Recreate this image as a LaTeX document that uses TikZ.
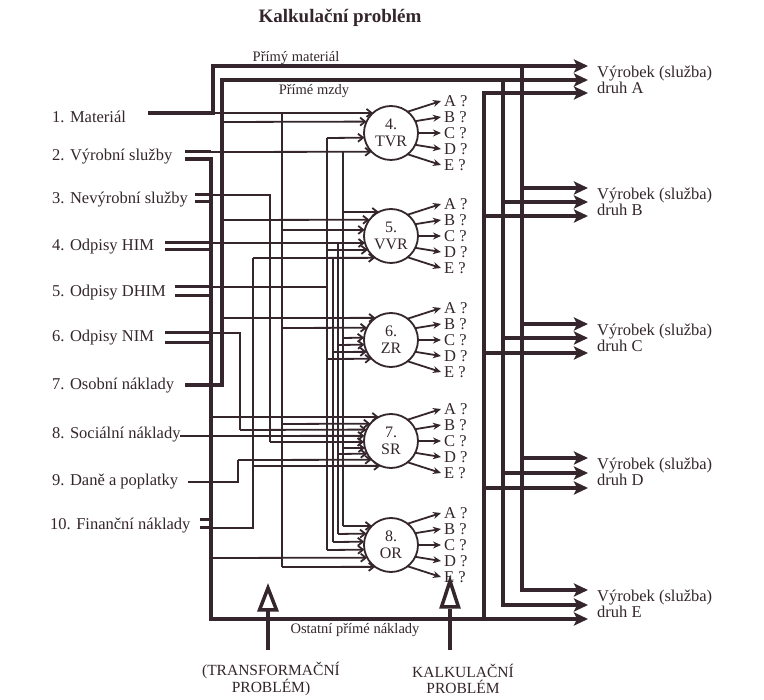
\documentclass[tikz,border=0pt]{standalone}
\usepackage{fontspec}
\setmainfont{Liberation Serif}
\usetikzlibrary{arrows.meta}
\definecolor{ink}{RGB}{52,38,44}
\newcommand\inarrow[4]{\pgfmathsetmacro\myang{180+asin((#2-#4)/27)}\draw[inarr] (#1,#2) -- (#3.\myang);}
\newcommand\fan[2]{\foreach \k/\a/\L in {0/52/A,1/26/B,2/0/C,3/-26/D,4/-52/E}{%
  \draw[outarr] (#1.\a) -- (441,{#2+(\k-2)*16});
  \node[txt,anchor=west] (#1-\L) at (444,{#2+(\k-2)*16}) {\L\ ?};}}
\begin{document}
\begin{tikzpicture}[x=1pt,y=-1pt,
  every node/.style={text=ink, inner sep=0pt},
  txt/.style={font=\fontsize{16.5}{16.5}\selectfont},
  small/.style={font=\fontsize{14.5}{16}\selectfont},
  thickw/.style={draw=ink, line width=4.2pt},
  stub/.style={draw=ink, line width=3pt},
  thinw/.style={draw=ink, line width=1.8pt},
  bigarrow/.style={-{Stealth[length=14pt,width=13pt,inset=3pt]}},
  inarr/.style={thinw, -{Straight Barb[length=5pt,width=8pt]}},
  outarr/.style={thinw, -{Stealth[length=8pt,width=7pt]}},
  center/.style={circle, draw=ink, line width=1.8pt, minimum size=54pt, inner sep=0pt, outer sep=0pt, fill=white, align=center, font=\fontsize{16}{17}\selectfont},
]
\fill[white] (0,0) rectangle (764,700);
\useasboundingbox (0,0) rectangle (764,700);

% title
\node[font=\bfseries\fontsize{19}{19}\selectfont] (title) at (340,18) {Kalkulační problém};

% left labels
\node[txt,anchor=west] (l1) at (52,117) {1. Materiál};
\node[txt,anchor=west] (l2) at (52,157) {2. Výrobní služby};
\node[txt,anchor=west] (l3) at (52,200) {3. Nevýrobní služby};
\node[txt,anchor=west] (l4) at (52,247) {4. Odpisy HIM};
\node[txt,anchor=west] (l5) at (52,293) {5. Odpisy DHIM};
\node[txt,anchor=west] (l6) at (52,338) {6. Odpisy NIM};
\node[txt,anchor=west] (l7) at (52,386) {7. Osobní náklady};
\node[txt,anchor=west] (l8) at (52,435) {8. Sociální náklady};
\node[txt,anchor=west] (l9) at (52,482) {9. Daně a poplatky};
\node[txt,anchor=west] (l10) at (50,526) {10. Finanční náklady};

% centres
\node[center] (tvr) at (391,133) {4.\\TVR};
\node[center] (vvr) at (391,236) {5.\\VVR};
\node[center] (zr)  at (391,340) {6.\\ZR};
\node[center] (sr)  at (391,441) {7.\\SR};
\node[center] (ore) at (391,545) {8.\\OR};

\fan{tvr}{133}
\fan{vvr}{236}
\fan{zr}{340}
\fan{sr}{441}
\fan{ore}{545}

% stubs of double inputs
\draw[stub] (185,152) -- (211,152);
\draw[stub] (195,195) -- (211,195);
\draw[stub] (195,202) -- (211,202);
\draw[stub] (165,243) -- (211,243);
\draw[stub] (165,250) -- (211,250);
\draw[stub] (175,287) -- (211,287);
\draw[stub] (175,296) -- (211,296);
\draw[stub] (165,333) -- (211,333);
\draw[stub] (165,343) -- (211,343);
\draw[stub] (200,520) -- (211,520);
\draw[stub] (200,528) -- (211,528);

% thin distribution wiring
\inarrow{213}{113}{tvr}{133}
\inarrow{211}{152}{tvr}{133}
\inarrow{222}{122}{tvr}{133}
\inarrow{222}{220}{vvr}{236}
\inarrow{222}{318}{zr}{340}
\inarrow{211}{417}{sr}{441}
\inarrow{211}{558}{ore}{545}
% material branch
\draw[thinw] (282,113) -- (282,567);
\inarrow{282}{230}{vvr}{236}
\inarrow{282}{328}{zr}{340}
\inarrow{282}{424}{sr}{441}
\inarrow{282}{567}{ore}{545}
% vyrobni sluzby branch
\draw[thinw] (343,152) -- (343,526);
\inarrow{343}{212}{vvr}{236}
\inarrow{343}{338}{zr}{340}
\inarrow{343}{448}{sr}{441}
\inarrow{343}{526}{ore}{545}
% HIM
\inarrow{211}{243}{vvr}{236}
\draw[thinw] (338,243) -- (338,534);
\inarrow{338}{345}{zr}{340}
\inarrow{338}{454}{sr}{441}
\inarrow{338}{534}{ore}{545}
% DHIM
\draw[thinw] (211,287) -- (327,287);
\draw[thinw] (327,138) -- (327,550);
\inarrow{327}{138}{tvr}{133}
\inarrow{327}{250}{vvr}{236}
\inarrow{327}{359}{zr}{340}
\inarrow{327}{550}{ore}{545}
% Financni
\draw[thinw] (211,528) -| (253,258);
\inarrow{253}{258}{vvr}{236}
\inarrow{253}{466}{sr}{441}
\draw[thinw] (333,258) -- (333,542);
\inarrow{333}{352}{zr}{340}
\inarrow{333}{542}{ore}{545}
% NIM
\draw[thinw] (211,333) -| (240,430);
\inarrow{240}{430}{sr}{441}
% Nevyrobni
\draw[thinw] (211,195) -| (270,442);
\inarrow{270}{442}{sr}{441}
% Dane
\draw[thinw] (188,482) -| (238,460);
\inarrow{238}{460}{sr}{441}
% Socialni
\inarrow{180}{436}{sr}{441}

% thick direct lines
\draw[thickw, bigarrow] (148,113) -| (213,66) -- (588,66);
\draw[thickw, bigarrow] (185,385) -| (222,80) -- (588,80);
\draw[thickw, bigarrow] (185,159) -| (211,619) -- (588,619);
\draw[thickw, bigarrow] (522,66) -- (522,590) -- (588,590);
\draw[thickw, bigarrow] (503,80) -- (503,605) -- (588,605);
\draw[thickw, bigarrow] (484,619) -- (484,93) -- (588,93);
\foreach \y in {188,324,458} \draw[thickw,bigarrow] (522,\y) -- (588,\y);
\foreach \y in {202,338,473} \draw[thickw,bigarrow] (503,\y) -- (588,\y);
\foreach \y in {216,353,488} \draw[thickw,bigarrow] (484,\y) -- (588,\y);

\node[small] (pm)  at (296,58) {Přímý materiál};
\node[small] (pmz) at (314,91) {Přímé mzdy};
\node[small] (opn) at (355,630) {Ostatní přímé náklady};

% products
\node[txt,anchor=west,align=left] (pa) at (597,80)  {Výrobek (služba)\\druh A};
\node[txt,anchor=west,align=left] (pb) at (597,202) {Výrobek (služba)\\druh B};
\node[txt,anchor=west,align=left] (pc) at (597,338) {Výrobek (služba)\\druh C};
\node[txt,anchor=west,align=left] (pd) at (597,472) {Výrobek (služba)\\druh D};
\node[txt,anchor=west,align=left] (pe) at (597,604) {Výrobek (služba)\\druh E};

% hollow arrows
\draw[ink, line width=4pt] (268,650) -- (268,611);
\draw[ink, line width=3.5pt, fill=white] (268,588) -- (259.5,610) -- (276.5,610) -- cycle;
\draw[ink, line width=4pt] (450,650) -- (450,609);
\draw[ink, line width=3.5pt, fill=white] (450,581) -- (441.5,607) -- (458.5,607) -- cycle;

\node[font=\fontsize{15.5}{16}\selectfont, align=center] (tp) at (271,679) {(TRANSFORMAČNÍ\\PROBLÉM)};
\node[font=\fontsize{15.5}{16}\selectfont, align=center] (kp) at (463,679) {KALKULAČNÍ\\PROBLÉM};
\end{tikzpicture}
\end{document}
